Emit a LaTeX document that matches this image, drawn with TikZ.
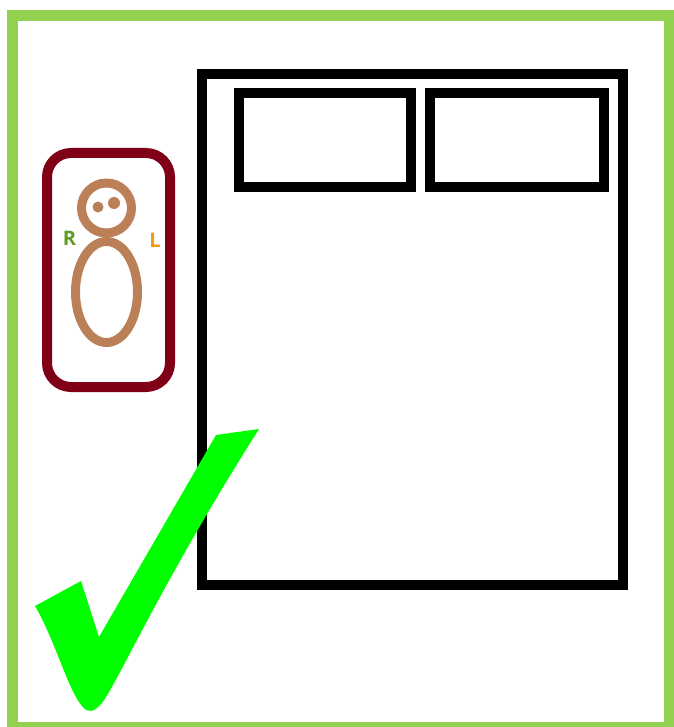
\documentclass[tikz,border=0pt]{standalone}
\usepackage{fontspec}
\setmainfont{Open Sans}
\definecolor{framegreen}{HTML}{92D050}
\definecolor{matred}{HTML}{800018}
\definecolor{bodybrown}{HTML}{BC8059}
\definecolor{rgreen}{HTML}{5E9C22}
\definecolor{lorange}{HTML}{F09A0C}
\definecolor{tick}{HTML}{00FF00}
\tikzset{
  x=1pt,y=-1pt,
  outline/.style={draw=black,line width=10pt,miter limit=10},
  mark letter/.style={font=\bfseries\fontsize{20}{20}\selectfont,inner sep=0pt},
}
\begin{document}
\begin{tikzpicture}
\useasboundingbox (0,0) rectangle (673,727);
\fill[white] (0,0) rectangle (673,727);
\draw[framegreen,line width=11pt] (12.5,16) rectangle (669,727);
\draw[outline] (202,74) rectangle (623,585);
\draw[outline] (239,93) rectangle (411,187);
\draw[outline] (430,93) rectangle (604,187);
\draw[matred,line width=10pt,rounded corners=24pt] (47,153) rectangle (170,387);
\draw[bodybrown,line width=9pt] (106.5,208) circle [radius=25];
\draw[bodybrown,line width=9pt] (106.5,292) ellipse [x radius=31,y radius=50.5];
\fill[bodybrown] (98,207) circle [radius=5.5];
\fill[bodybrown] (114,203) circle [radius=6];
\node[mark letter,text=rgreen] (r) at (69.5,238) {R};
\node[mark letter,text=lorange] (l) at (155,240) {L};
\fill[tick] (259,429) -- (216,435) -- (99,637) -- (81,581) -- (35,606)
  .. controls (55,640) and (68,690) .. (82,706)
  .. controls (88,714) and (94,712) .. (102,703)
  .. controls (118,682) and (160,585) .. (259,429) -- cycle;
\end{tikzpicture}
\end{document}
